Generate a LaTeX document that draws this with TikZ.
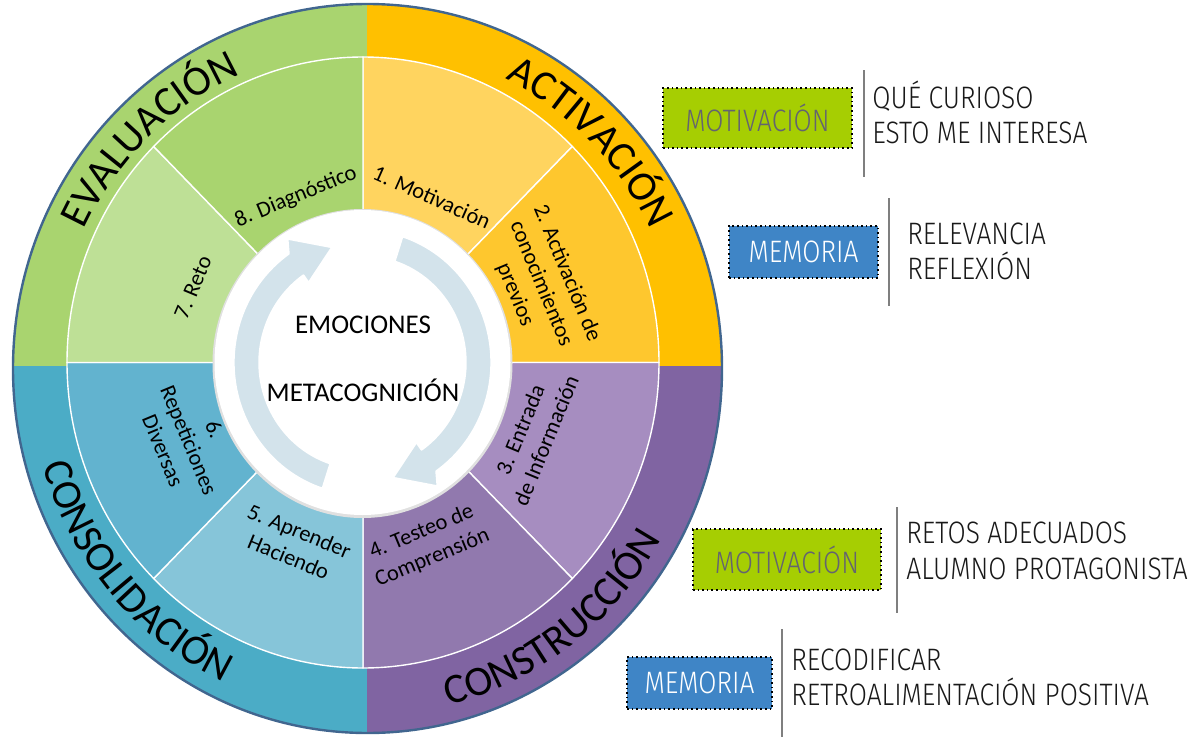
\documentclass[tikz,border=0pt]{standalone}
\usepackage{fontspec}
\setmainfont{Carlito}
\newfontfamily\dinfont[FakeStretch=0.85]{Fira Sans Light}
\usetikzlibrary{decorations.text}
\definecolor{cGreen}{HTML}{A9D46F}
\definecolor{cOrange}{HTML}{FFC000}
\definecolor{cPurple}{HTML}{8064A2}
\definecolor{cTeal}{HTML}{4BACC6}
\definecolor{sOne}{HTML}{FFD45F}
\definecolor{sTwo}{HTML}{FEC72E}
\definecolor{sThree}{HTML}{A68DC0}
\definecolor{sFour}{HTML}{9179AE}
\definecolor{sFive}{HTML}{86C5D9}
\definecolor{sSix}{HTML}{62B3CF}
\definecolor{sSeven}{HTML}{BEE096}
\definecolor{sEight}{HTML}{A9D46F}
\definecolor{cBorder}{HTML}{41668F}
\definecolor{cArrow}{HTML}{D3E3EB}
\definecolor{cMot}{HTML}{A6CE02}
\definecolor{cMem}{HTML}{3F85C6}
\definecolor{cMotTxt}{HTML}{646470}
\definecolor{cVline}{HTML}{7F7F7F}
\begin{document}
\begin{tikzpicture}[x=0.5pt,y=0.5pt,
  seglabel/.style={font=\fontsize{11.2}{14}\selectfont, align=center, inner sep=0pt},
  centerlabel/.style={font=\fontsize{13.5}{16}\selectfont, inner sep=0pt},
  boxbase/.style={draw=black, line width=0.8pt, dash pattern=on 0.8pt off 1.5pt, inner sep=0pt,
     font=\dinfont\fontsize{15.5}{15.5}\selectfont},
  motbox/.style={boxbase, fill=cMot, text=cMotTxt},
  membox/.style={boxbase, fill=cMem, text=white},
  vline/.style={draw=cVline, line width=1pt},
  rtext/.style={font=\dinfont\fontsize{15.5}{15.5}\selectfont, inner sep=0pt, anchor=base west, text=black!90},
  arrowband/.style={fill=cArrow, draw=white, line width=1.2pt, line join=round},
  ringseg/.style={draw=white, line width=0.7pt, line join=round},
  outerlabel/.style={decorate, decoration={text along path, text align=center, text={|\fontsize{21}{21}\selectfont|#1}}}
]
\useasboundingbox (0,0) rectangle (1200,-739);

% outer quadrants
\begin{scope}
  \clip (367.5,-368.5) ellipse [x radius=354.5, y radius=364.5];
  \fill[cGreen]  (366.5,-366) rectangle (0,0);
  \fill[cOrange] (366.5,-366) rectangle (740,0);
  \fill[cPurple] (366.5,-366) rectangle (740,-739);
  \fill[cTeal]   (366.5,-366) rectangle (0,-739);
\end{scope}
\draw[cBorder, line width=1.2pt] (367.5,-368.5) ellipse [x radius=354.5, y radius=364.5];

% outer labels
\begin{scope}[shift={(367.5,-368.5)}]
  \path[outerlabel=EVALUACIÓN] (174:314 and 322) arc[start angle=174, end angle=94, x radius=314, y radius=322];
  \path[outerlabel=ACTIVACIÓN] (85:314 and 322) arc[start angle=85, end angle=5, x radius=314, y radius=322];
  \path[outerlabel=CONSTRUCCIÓN] (-93:338 and 347) arc[start angle=-93, end angle=-13, x radius=338, y radius=347];
  \path[outerlabel=CONSOLIDACIÓN] (180.7:338 and 347) arc[start angle=180.7, end angle=260.7, x radius=338, y radius=347];
\end{scope}

% ring segments
\begin{scope}[shift={(363,-362.5)}]
  \foreach \a/\b/\c in {45/90/sOne, 0/45/sTwo, -45/0/sThree, -90/-45/sFour, -135/-90/sFive, 180/225/sSix, 135/180/sSeven, 90/135/sEight}
    \filldraw[ringseg, fill=\c] (0,0) -- (\a:296 and 305.5) arc[start angle=\a, end angle=\b, x radius=296, y radius=305.5] -- cycle;
\end{scope}

% inner white circle
\fill[black!12] (362.5,-363.5) ellipse [x radius=150, y radius=154.5];
\fill[white] (362.5,-362.5) ellipse [x radius=148, y radius=152.5];

% circular arrows
\begin{scope}[shift={(362.5,-362.5)}, yscale=1.03]
  \filldraw[arrowband] (252:103) arc[start angle=252, end angle=125, radius=103] -- (125:94) -- (105:116) -- (122:142) -- (125:129) arc[start angle=125, end angle=252, radius=129] -- cycle;
  \filldraw[arrowband] (72:103) arc[start angle=72, end angle=-55, radius=103] -- (-55:94) -- (-75:116) -- (-58:142) -- (-55:129) arc[start angle=-55, end angle=72, radius=129] -- cycle;
\end{scope}

% center labels
\node[centerlabel] (emo) at (363,-325) {EMOCIONES};
\node[centerlabel] (meta) at (363,-390) {METACOGNICIÓN};

% segment labels
\node[seglabel, rotate=-24] (l1) at (432,-197) {1. Motivación};
\node[seglabel, rotate=-67.5] (l2) at (541,-284) {2. Activación de\\conocimientos\\previos};
\node[seglabel, rotate=67.5] (l3) at (533,-435) {3. Entrada\\de Información};
\node[seglabel, rotate=22.5] (l4) at (427,-545) {4. Testeo de\\Comprensión};
\node[seglabel, rotate=-22.5] (l5) at (294,-544) {5. Aprender\\Haciendo};
\node[seglabel, rotate=-67.5] (l6) at (189,-440) {6.\\Repeticiones\\Diversas};
\node[seglabel, rotate=67.5] (l7) at (193,-287) {7. Reto};
\node[seglabel, rotate=22.5] (l8) at (296,-197) {8. Diagnóstico};

% right side: block 1
\node[motbox, minimum width=94.5pt, minimum height=30pt] (m1) at (757.5,-118) {MOTIVACIÓN};
\coordinate (v1a) at (864,-70);
\coordinate (v1b) at (864,-177);
\draw[vline] (v1a) -- (v1b);
\node[rtext] (t1a) at (872,-108) {QUÉ CURIOSO};
\node[rtext] (t1b) at (872,-143) {ESTO ME INTERESA};

% block 2
\node[membox, minimum width=74.5pt, minimum height=26pt] (m2) at (803.5,-252) {MEMORIA};
\coordinate (v2a) at (889,-198);
\coordinate (v2b) at (889,-306);
\draw[vline] (v2a) -- (v2b);
\node[rtext] (t2a) at (907,-244) {RELEVANCIA};
\node[rtext] (t2b) at (907,-279) {REFLEXIÓN};

% block 3
\node[motbox, minimum width=94pt, minimum height=30.5pt] (m3) at (787,-559.5) {MOTIVACIÓN};
\coordinate (v3a) at (897,-507);
\coordinate (v3b) at (897,-613);
\draw[vline] (v3a) -- (v3b);
\node[rtext] (t3a) at (906,-543) {RETOS ADECUADOS};
\node[rtext] (t3b) at (906,-579) {ALUMNO PROTAGONISTA};

% block 4
\node[membox, minimum width=72.5pt, minimum height=26pt] (m4) at (699.5,-683) {MEMORIA};
\coordinate (v4a) at (782,-629);
\coordinate (v4b) at (782,-737);
\draw[vline] (v4a) -- (v4b);
\node[rtext] (t4a) at (791,-670) {RECODIFICAR};
\node[rtext] (t4b) at (791,-705) {RETROALIMENTACIÓN POSITIVA};
\end{tikzpicture}
\end{document}
